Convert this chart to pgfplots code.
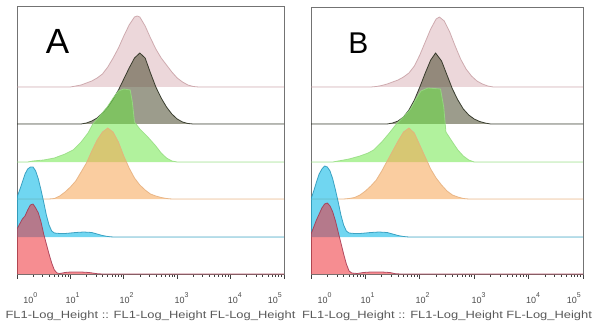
\documentclass[border=0pt]{standalone}
\usepackage{pgfplots}
\pgfplotsset{compat=1.18}
\usepackage{pgfplotstable}
\usepackage{graphicx}
\usepackage{fontspec}
\setmainfont{Liberation Sans}

\definecolor{pinkF}{RGB}{205,150,158}
\definecolor{pinkD}{RGB}{200,160,165}
\definecolor{darkF}{RGB}{75,75,45}
\definecolor{darkD}{RGB}{35,40,25}
\definecolor{greenF}{RGB}{100,230,60}
\definecolor{greenD}{RGB}{150,220,130}
\definecolor{orangeF}{RGB}{246,164,82}
\definecolor{orangeD}{RGB}{230,175,125}
\definecolor{cyanF}{RGB}{17,186,232}
\definecolor{cyanD}{RGB}{40,150,185}
\definecolor{redF}{RGB}{238,47,55}
\definecolor{redD}{RGB}{165,55,80}

\newcommand{\tl}[1]{10\raisebox{5.5bp}{\fontsize{7bp}{7bp}\selectfont #1}}

% ---------- Panel A ----------
\pgfplotstableread{
x h
0 0
0 45
0.05 50
0.1 55
0.15 58
0.2 64
0.25 69
0.3 70
0.35 66
0.4 61
0.45 52
0.5 40
0.55 30
0.6 20
0.65 11
0.7 4
0.75 1
0.8 0.5
0.9 1.5
1.0 2
1.2 2
1.35 1.5
1.5 0.3
1.6 0
5 0
}\redA
\pgfplotstableread{
x h
0 0
0 40
0.05 47
0.1 55
0.15 63
0.2 68
0.25 70
0.3 70
0.35 66
0.4 58
0.45 47
0.5 35
0.55 22
0.6 12
0.65 6
0.7 4
0.8 3.5
0.9 3.5
1.0 4
1.1 4.5
1.25 5
1.4 4.5
1.5 3
1.6 1.5
1.7 0.5
1.8 0
5 0
}\cyanA
\pgfplotstableread{
x h
0 0
0.6 0
0.7 0.5
0.8 3
0.9 7
1.0 12
1.1 18
1.2 27
1.3 36
1.4 48
1.5 59
1.6 67
1.7 71
1.8 67
1.9 57
2.0 43
2.1 31
2.2 21
2.3 14
2.4 9
2.5 5
2.6 3
2.7 1.5
2.8 0.5
2.9 0
5 0
}\orangeA
\pgfplotstableread{
x h
0 0
0.2 0
0.3 1
0.5 2
0.7 4
0.9 8
1.05 12
1.2 20
1.33 29
1.42 38
1.55 46
1.69 55
1.8 64
1.9 71
2.0 73
2.12 72
2.16 60
2.2 40
2.3 33
2.45 25
2.6 16
2.7 9
2.8 4
2.9 1
3.0 0
5 0
}\greenA
\pgfplotstableread{
x h
0 0
1.2 0
1.3 1
1.4 3
1.5 6
1.6 11
1.7 17
1.8 25
1.9 34
2.0 45
2.1 56
2.2 66
2.3 71
2.4 66
2.5 51
2.6 37
2.7 26
2.8 17
2.9 10
3.0 5
3.1 2
3.2 0.5
3.3 0
5 0
}\darkA
\pgfplotstableread{
x h
0 0
1.0 0
1.1 1
1.2 2
1.3 4
1.4 6
1.5 9
1.6 13
1.7 20
1.8 29
1.9 39
2.0 51
2.1 62
2.2 70
2.25 71
2.3 70
2.4 61
2.5 49
2.6 38
2.7 29
2.8 22
2.9 15
3.0 9
3.1 5
3.2 2
3.3 0.5
3.4 0
5 0
}\pinkA

% ---------- Panel B ----------
\pgfplotstableread{
x h
0 0
0 40
0.05 47
0.1 54
0.15 60
0.2 66
0.25 70
0.3 71
0.35 68
0.4 62
0.45 53
0.5 42
0.55 31
0.6 20
0.65 10
0.7 3
0.75 1
0.85 0.5
0.96 1.5
1.1 2
1.3 2
1.45 1.5
1.55 0.3
1.65 0
5 0
}\redB
\pgfplotstableread{
x h
0 0
0 38
0.05 46
0.1 55
0.15 63
0.2 68
0.25 71
0.3 70
0.35 66
0.4 58
0.45 47
0.5 35
0.55 22
0.6 12
0.65 6
0.7 4
0.8 3.5
0.9 3.5
1.0 4
1.1 4.5
1.25 5
1.4 4.5
1.5 3
1.6 1.5
1.7 0.5
1.8 0
5 0
}\cyanB
\pgfplotstableread{
x h
0 0
0.6 0
0.7 0.5
0.8 1.5
0.9 4
1.0 8
1.1 13
1.2 19
1.3 28
1.4 38
1.5 48
1.6 58
1.7 67
1.8 71
1.9 66
2.0 54
2.1 42
2.2 30
2.3 21
2.4 14
2.5 8
2.6 4
2.7 2
2.8 0.5
2.9 0
5 0
}\orangeB
\pgfplotstableread{
x h
0 0
0.4 0
0.5 1
0.7 3
0.9 6
1.05 9
1.15 12
1.3 20
1.44 29
1.57 38
1.7 45
1.83 53
1.93 63
2.02 71
2.15 74
2.38 73
2.44 55
2.48 30
2.6 20
2.7 12
2.8 6
2.9 2
3.0 0
5 0
}\greenB
\pgfplotstableread{
x h
0 0
1.4 0
1.5 1
1.6 3
1.7 7
1.8 14
1.9 24
2.0 37
2.1 51
2.2 64
2.29 71
2.4 63
2.5 49
2.6 35
2.7 24
2.8 15
2.9 9
3.0 5
3.1 2.5
3.2 1
3.3 0
5 0
}\darkB
\pgfplotstableread{
x h
0 0
1.1 0
1.2 0.5
1.3 1.5
1.4 3
1.5 5
1.6 7
1.7 10
1.8 14
1.9 21
2.0 32
2.1 45
2.2 58
2.3 68
2.36 70
2.45 66
2.55 55
2.65 41
2.75 28
2.85 18
2.95 11
3.05 6
3.15 3
3.25 1
3.35 0
5 0
}\pinkB

\pgfplotsset{
  hist/.style n args={2}{fill=#1, draw=#2, fill opacity=0.55, draw opacity=0.85, line width=0.8bp, mark=none},
  panel/.style={
    scale only axis,
    xmin=0, xmax=5, ymin=0,
    ytick=\empty,
    tick pos=left,
    xtick={0,1,2,3,4,5},
    xticklabels={{},{},{},{},{},{}},
    minor xtick={0.301,0.477,0.602,0.699,0.778,0.845,0.903,0.954,
                 1.301,1.477,1.602,1.699,1.778,1.845,1.903,1.954,
                 2.301,2.477,2.602,2.699,2.778,2.845,2.903,2.954,
                 3.301,3.477,3.602,3.699,3.778,3.845,3.903,3.954,
                 4.301,4.477,4.602,4.699,4.778,4.845,4.903,4.954},
    tick align=outside,
    major tick length=4.5bp,
    minor tick length=2.5bp,
    tick style={black!75, line width=0.7bp},
    axis line style={black!55, line width=0.8bp},
    extra x ticks={0.25,1.04,2.05,3.08,4.08,4.83},
    extra x tick labels={\tl{0},\tl{1},\tl{2},\tl{3},\tl{4},\tl{5}},
    extra x tick style={major tick length=0pt, tick style={draw=none},
       xticklabel style={anchor=base, yshift=-29bp}},
    tick label style={font=\fontsize{9bp}{10bp}\selectfont, text=black!70},
    xlabel={\scalebox{1.23}[1]{FL1-Log\_Height :: FL1-Log\_Height FL-Log\_Height}},
    xlabel style={at={(axis description cs:0.5,0)}, anchor=base, yshift=-44.5bp,
       font=\fontsize{10.5bp}{11bp}\selectfont, text=black!65},
  }
}

\begin{document}
\begin{tikzpicture}[x=1bp,y=1bp]
\path[use as bounding box] (0,0) rectangle (596,331);
\clip (0,0) rectangle (596,331);

\begin{axis}[panel, at={(17bp,57bp)}, anchor=south west,
  width=267bp, height=268bp, ymax=268]
\addplot[hist={pinkF}{pinkD}, fill opacity=0.38] table[x=x, y expr=\thisrow{h}+187] {\pinkA};
\addplot[hist={darkF}{darkD}, fill opacity=0.55] table[x=x, y expr=\thisrow{h}+150] {\darkA};
\addplot[hist={greenF}{greenD}, fill opacity=0.5] table[x=x, y expr=\thisrow{h}+112] {\greenA};
\addplot[hist={orangeF}{orangeD}, fill opacity=0.55] table[x=x, y expr=\thisrow{h}+75] {\orangeA};
\addplot[hist={cyanF}{cyanD}, fill opacity=0.6] table[x=x, y expr=\thisrow{h}+37] {\cyanA};
\addplot[hist={redF}{redD}, fill opacity=0.55] table[x=x, y expr=\thisrow{h}+0] {\redA};
\node[anchor=base, font=\fontsize{35bp}{35bp}\selectfont] at (0.76,220.7) {A};
\end{axis}

\begin{axis}[panel, at={(311bp,57bp)}, anchor=south west,
  width=272bp, height=267bp, ymax=267]
\addplot[hist={pinkF}{pinkD}, fill opacity=0.38] table[x=x, y expr=\thisrow{h}+187] {\pinkB};
\addplot[hist={darkF}{darkD}, fill opacity=0.55] table[x=x, y expr=\thisrow{h}+150] {\darkB};
\addplot[hist={greenF}{greenD}, fill opacity=0.5] table[x=x, y expr=\thisrow{h}+112] {\greenB};
\addplot[hist={orangeF}{orangeD}, fill opacity=0.55] table[x=x, y expr=\thisrow{h}+75] {\orangeB};
\addplot[hist={cyanF}{cyanD}, fill opacity=0.6] table[x=x, y expr=\thisrow{h}+37] {\cyanB};
\addplot[hist={redF}{redD}, fill opacity=0.55] table[x=x, y expr=\thisrow{h}+0] {\redB};
\node[anchor=base, font=\fontsize{30bp}{30bp}\selectfont] at (0.87,220.7) {B};
\end{axis}
\end{tikzpicture}
\end{document}
